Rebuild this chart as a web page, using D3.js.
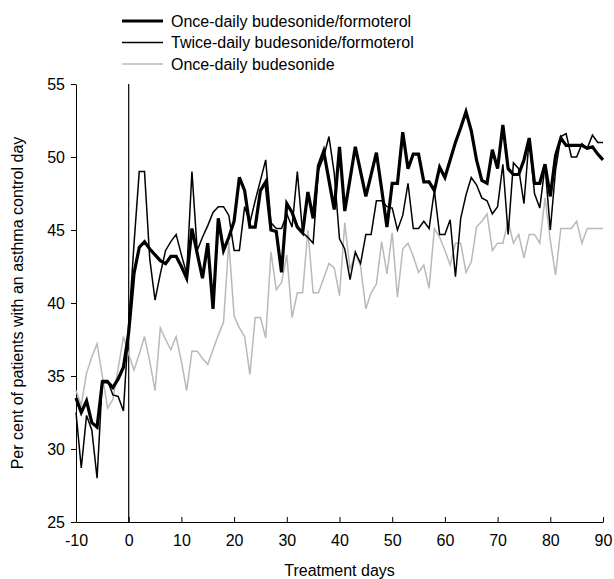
<!DOCTYPE html>
<html>
<head>
<meta charset="utf-8">
<script src="https://cdn.jsdelivr.net/npm/d3@7"></script>
<style>
    body { margin: 0; background: #fff; }
    svg { font-family: "Liberation Sans", Arial, sans-serif; }
    .axis text { font-size: 16px; fill: #000; }
    .axis path, .axis line { stroke: #000; stroke-width: 1; }
    .line { fill: none; stroke-linejoin: miter; }
</style>
</head>
<body>
<svg id="chart" width="614" height="579"></svg>
<script>

/*    ========    DATA    =========    */

var days = d3.range(-10, 91);   // treatment days -10 .. 90

// Once-daily budesonide/formoterol (thick black)
var onceBF = [
    33.5, 32.5, 33.3, 31.8, 31.5, 34.6, 34.6, 34.2, 34.8, 35.6,
    38.0, 42.0, 43.8, 44.2, 43.7, 43.3, 42.9, 42.7, 43.2, 43.2,
    42.5, 41.7, 45.1, 43.4, 41.7, 44.1, 39.6, 45.8, 43.6, 44.5,
    45.6, 48.6, 47.7, 45.2, 45.2, 47.7, 48.3, 45.0, 44.9, 42.1,
    46.8, 46.2, 45.2, 44.8, 47.6, 45.8, 49.4, 50.4, 48.4, 46.4,
    50.7, 46.3, 48.5, 50.7, 49.0, 47.3, 48.8, 50.3, 47.8, 45.2,
    48.2, 48.2, 51.7, 49.2, 50.2, 50.2, 48.3, 48.3, 47.7, 49.3,
    48.6, 49.8, 51.0, 52.0, 53.1, 51.8, 49.8, 48.4, 48.2, 50.5,
    49.2, 52.2, 49.2, 48.8, 48.8, 49.8, 51.3, 48.2, 48.2, 49.5,
    47.3, 50.1, 51.3, 50.8, 50.8, 50.8, 50.8, 50.6, 50.7, 50.2,
    49.8
];

// Twice-daily budesonide/formoterol (thin black)
var twiceBF = [
    32.5, 28.7, 32.3, 31.3, 28.0, 34.7, 34.7, 33.7, 33.6, 32.6,
    38.5, 44.0, 49.0, 49.0, 43.0, 40.2, 42.0, 43.6, 44.2, 44.7,
    43.3, 42.0, 49.0, 43.6, 44.5, 45.3, 46.2, 46.6, 46.6, 46.0,
    43.6, 43.6, 46.6, 45.5, 47.0, 48.4, 49.8, 45.5, 45.1, 45.1,
    46.1, 45.2, 49.0, 44.8, 44.5, 44.1, 49.1, 50.0, 51.4, 48.9,
    44.4, 43.7, 41.6, 43.5, 42.7, 44.7, 44.7, 47.0, 47.0, 46.6,
    46.5, 45.0, 46.0, 48.2, 45.1, 45.1, 45.6, 45.1, 47.7, 44.7,
    44.7, 45.7, 41.8, 45.8, 47.4, 48.6, 48.1, 47.2, 47.0, 46.1,
    46.6, 49.5, 44.7, 49.6, 49.2, 46.8, 51.3, 47.5, 46.5, 49.4,
    45.0, 49.1, 51.4, 51.6, 50.0, 50.0, 50.9, 50.6, 51.5, 51.0,
    51.0
];

// Once-daily budesonide (grey)
var onceB = [
    34.0, 33.0, 35.2, 36.3, 37.2, 35.0, 32.8, 33.4, 35.5, 37.7,
    36.5, 35.4, 36.5, 37.7, 36.0, 34.0, 38.3, 37.5, 36.8, 37.7,
    36.0, 34.0, 36.7, 36.7, 36.2, 35.8, 36.8, 37.8, 38.7, 44.2,
    39.1, 38.3, 37.7, 35.1, 39.0, 39.0, 37.6, 43.5, 40.9, 41.4,
    43.3, 39.0, 40.7, 40.7, 45.0, 40.7, 40.7, 41.7, 42.7, 42.4,
    40.5, 45.5, 42.3, 43.4, 42.5, 39.6, 40.7, 41.3, 44.2, 42.0,
    44.8, 40.4, 43.7, 44.1, 43.2, 42.1, 42.6, 41.0, 45.1, 44.5,
    43.6, 42.6, 44.1, 44.1, 42.1, 42.8, 45.2, 45.6, 46.1, 43.6,
    44.1, 44.1, 45.6, 44.1, 44.7, 43.1, 44.7, 44.7, 44.1, 47.2,
    44.3, 41.9, 45.1, 45.1, 45.1, 45.6, 44.1, 45.1, 45.1, 45.1,
    45.1
];

var seriesNames = [
    "Once-daily budesonide/formoterol",
    "Twice-daily budesonide/formoterol",
    "Once-daily budesonide"
];

var xTicks = [-10, 0, 10, 20, 30, 40, 50, 60, 70, 80, 90];
var yTicks = [25, 30, 35, 40, 45, 50, 55];

/*    ========    SETTINGS    =========    */

var svg = d3.select('#chart');

var margin = {left: 76, right: 11, top: 84, bottom: 57};
var width = 614, height = 579;

var X_RANGE = [-10, 90];
var Y_RANGE = [25, 55];

var styles = [
    {color: "#000", width: 3.2},
    {color: "#000", width: 1.5},
    {color: "#b9b9b9", width: 1.5}
];

/*    ========    SCALES & AXES    =========    */

var scale_x = d3.scaleLinear()
    .domain(X_RANGE)
    .range([margin.left, width - margin.right]);

var scale_y = d3.scaleLinear()
    .domain(Y_RANGE)
    .range([height - margin.bottom, margin.top]);

// plain hyphen for negative labels, like the original
function fmt(d) { return String(d); }

// y axis
svg.append("g")
    .attr("class", "axis")
    .attr("transform", "translate(" + margin.left + ",0)")
    .call(d3.axisLeft(scale_y)
        .tickValues(yTicks)
        .tickFormat(fmt)
        .tickSizeInner(5)
        .tickSizeOuter(0)
        .tickPadding(6)
    );

// x axis, ticks point up into the plot
svg.append("g")
    .attr("class", "axis")
    .attr("transform", "translate(0," + (height - margin.bottom) + ")")
    .call(d3.axisBottom(scale_x)
        .tickValues(xTicks)
        .tickFormat(fmt)
        .tickSizeInner(-5)
        .tickSizeOuter(0)
        .tickPadding(13)
    );

// vertical line at day 0
svg.append("line")
    .attr("x1", scale_x(0)).attr("x2", scale_x(0))
    .attr("y1", scale_y(55)).attr("y2", scale_y(25))
    .attr("stroke", "#000")
    .attr("stroke-width", 1.2);

// axis titles
svg.append("text")
    .attr("x", (scale_x(-10) + scale_x(90)) / 2)
    .attr("y", 576)
    .attr("text-anchor", "middle")
    .style("font-size", "16px")
    .text("Treatment days");

svg.append("text")
    .attr("transform", "translate(23," + scale_y(40) + ") rotate(-90)")
    .attr("text-anchor", "middle")
    .style("font-size", "16px")
    .text("Per cent of patients with an asthma control day");

/*    ========    LINES    =========    */

var line = d3.line()
    .x(function(d) { return scale_x(d.day); })
    .y(function(d) { return scale_y(d.value); });

var allSeries = [onceBF, twiceBF, onceB];

// draw grey first so the black lines sit on top
[2, 1, 0].forEach(function(i) {
    var data = days.map(function(day, j) {
        return {day: day, value: allSeries[i][j]};
    });
    svg.append("path")
        .datum(data)
        .attr("class", "line")
        .attr("d", line)
        .attr("stroke", styles[i].color)
        .attr("stroke-width", styles[i].width);
});

/*    ========    LEGEND    =========    */

var legend = svg.append("g").attr("transform", "translate(122, 21)");

seriesNames.forEach(function(name, i) {
    var row = legend.append("g").attr("transform", "translate(0," + (i * 21.5) + ")");
    row.append("line")
        .attr("x1", 0).attr("x2", 41)
        .attr("stroke", styles[i].color)
        .attr("stroke-width", styles[i].width);
    row.append("text")
        .attr("x", 49)
        .attr("dy", "0.35em")
        .style("font-size", "16px")
        .text(name);
});

</script>
</body>
</html>
